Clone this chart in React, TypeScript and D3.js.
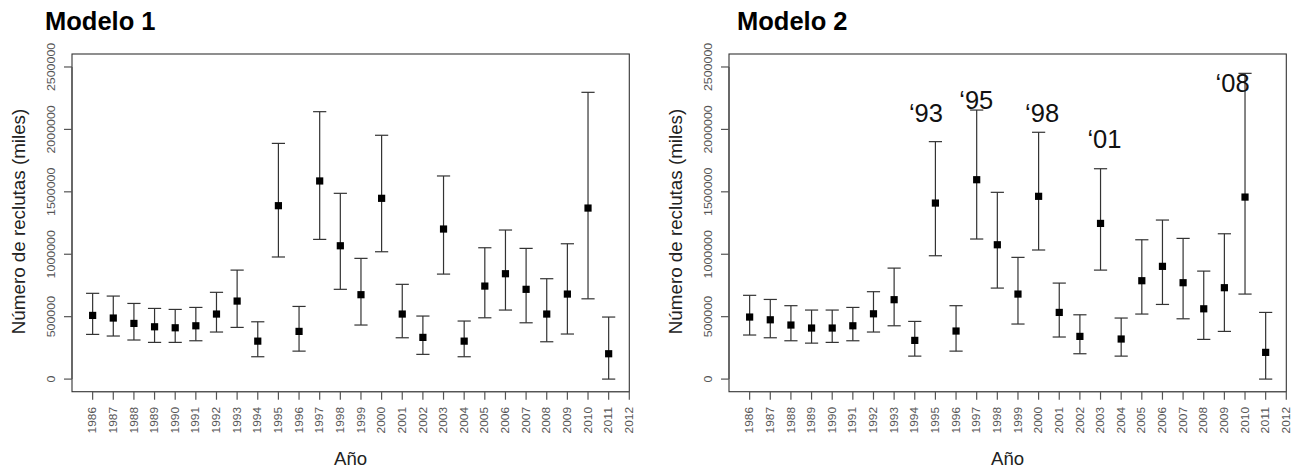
import React from "react";
import * as d3 from "d3";

const years = d3.range(1986, 2012); // 1986..2011
const tickYears = d3.range(1986, 2013); // 1986..2012
const yTicks = [0, 500000, 1000000, 1500000, 2000000, 2500000];

// Modelo 1 (in millions)
const m1Est = [0.510, 0.489, 0.446, 0.419, 0.411, 0.427, 0.521, 0.625, 0.304, 1.389, 0.382, 1.587, 1.068, 0.676, 1.448, 0.521, 0.334, 1.202, 0.304, 0.745, 0.844, 0.719, 0.521, 0.681, 1.370, 0.203];
const m1Up = [0.687, 0.665, 0.606, 0.566, 0.558, 0.574, 0.695, 0.873, 0.459, 1.888, 0.582, 2.142, 1.488, 0.967, 1.953, 0.759, 0.505, 1.627, 0.465, 1.052, 1.194, 1.047, 0.804, 1.084, 2.297, 0.497];
const m1Lo = [0.358, 0.345, 0.313, 0.294, 0.294, 0.307, 0.377, 0.414, 0.179, 0.978, 0.224, 1.119, 0.719, 0.433, 1.020, 0.331, 0.198, 0.841, 0.179, 0.491, 0.553, 0.451, 0.299, 0.361, 0.643, 0.000];

// Modelo 2 (in millions)
const m2Est = [0.497, 0.475, 0.433, 0.409, 0.409, 0.427, 0.523, 0.636, 0.310, 1.410, 0.385, 1.597, 1.076, 0.681, 1.464, 0.534, 0.342, 1.247, 0.321, 0.788, 0.903, 0.772, 0.563, 0.732, 1.458, 0.214];
const m2Up = [0.671, 0.638, 0.588, 0.553, 0.553, 0.574, 0.700, 0.889, 0.462, 1.902, 0.588, 2.155, 1.496, 0.975, 1.977, 0.769, 0.515, 1.685, 0.489, 1.116, 1.274, 1.127, 0.865, 1.164, 2.449, 0.534];
const m2Lo = [0.353, 0.331, 0.307, 0.288, 0.294, 0.307, 0.377, 0.427, 0.184, 0.988, 0.224, 1.122, 0.729, 0.441, 1.034, 0.337, 0.203, 0.873, 0.184, 0.521, 0.598, 0.483, 0.318, 0.382, 0.681, 0.000];

// annotations on Modelo 2
const annLabels = ["\u201893", "\u201895", "\u201898", "\u201801", "\u201808"];
const annX = [1994.54, 1996.98, 2000.17, 2003.19, 2009.4];
const annY = [2.062, 2.166, 2.062, 1.854, 2.303];

const FONT = "'Liberation Sans', Arial, Helvetica, sans-serif";

type PanelProps = {
  x0: number;
  title: string;
  titleX: number;
  est: number[];
  up: number[];
  lo: number[];
  ann?: boolean;
};

function Panel({ x0, title, titleX, est, up, lo, ann }: PanelProps) {
  const left = x0;
  const right = x0 + 557.3;
  const top = 54;
  const bottom = 391.7;
  const x = d3.scaleLinear().domain([1985, 2012]).range([left, right]);
  const y = d3.scaleLinear().domain([-101000, 2604000]).range([bottom, top]);
  const M = 1e6;
  const capW = 6.6;
  const sq = 7.2;
  return (
    <g>
      <text x={titleX} y={30} fontFamily={FONT} fontWeight="bold" fontSize={25.5} fill="#000">
        {title}
      </text>
      {/* box */}
      <rect x={left} y={top} width={right - left} height={bottom - top} fill="none" stroke="#333" strokeWidth={1.1} />
      {/* y axis */}
      <line x1={left} x2={left} y1={y(0)} y2={y(2500000)} stroke="#555" strokeWidth={1.3} />
      {yTicks.map((t) => (
        <g key={t}>
          <line x1={left - 8} x2={left} y1={y(t)} y2={y(t)} stroke="#555" strokeWidth={1.2} />
          <text
            transform={`translate(${left - 17.3},${y(t)}) rotate(-90)`}
            textAnchor="middle"
            fontFamily={FONT}
            fontSize={10.4}
            textLength={String(t).length * 6.9}
            lengthAdjust="spacingAndGlyphs"
            fill="#555"
          >
            {t}
          </text>
        </g>
      ))}
      {/* x axis */}
      <line x1={x(1986)} x2={x(2012)} y1={bottom} y2={bottom} stroke="#555" strokeWidth={1.3} />
      {tickYears.map((t) => (
        <g key={t}>
          <line x1={x(t)} x2={x(t)} y1={bottom} y2={bottom + 8} stroke="#555" strokeWidth={1.2} />
          <text
            transform={`translate(${x(t)},${407}) rotate(-90)`}
            textAnchor="end"
            dy="0.36em"
            fontFamily={FONT}
            fontSize={10}
            textLength={26.4}
            lengthAdjust="spacingAndGlyphs"
            fill="#555"
          >
            {t}
          </text>
        </g>
      ))}
      {/* axis titles */}
      <text
        transform={`translate(${left - 47.5},${221.5}) rotate(-90)`}
        textAnchor="middle"
        fontFamily={FONT}
        fontSize={18.8}
        fill="#222"
      >
        Número de reclutas (miles)
      </text>
      <text x={(left + right) / 2} y={465} textAnchor="middle" fontFamily={FONT} fontSize={18.6} fill="#222">
        Año
      </text>
      {/* error bars */}
      {years.map((yr, i) => {
        const cx = x(yr);
        return (
          <g key={yr}>
            <line x1={cx} x2={cx} y1={y(up[i] * M)} y2={y(lo[i] * M)} stroke="#333" strokeWidth={1.2} />
            <line x1={cx - capW} x2={cx + capW} y1={y(up[i] * M)} y2={y(up[i] * M)} stroke="#333" strokeWidth={1.2} />
            <line x1={cx - capW} x2={cx + capW} y1={y(lo[i] * M)} y2={y(lo[i] * M)} stroke="#333" strokeWidth={1.2} />
            <rect x={cx - sq / 2} y={y(est[i] * M) - sq / 2} width={sq} height={sq} fill="#000" />
          </g>
        );
      })}
      {ann &&
        annLabels.map((l, i) => (
          <text
            key={l}
            x={x(annX[i])}
            y={y(annY[i] * M)}
            textAnchor="middle"
            fontFamily={FONT}
            fontSize={25.5}
            fill="#111"
          >
            {l}
          </text>
        ))}
    </g>
  );
}

export default function App() {
  return (
    <svg
      width={1302}
      height={470}
      style={{ position: "absolute", left: 0, top: 0, background: "#fff" }}
    >
      <rect x={0} y={0} width={1302} height={470} fill="#fff" />
      <Panel x0={72} title="Modelo 1" titleX={45} est={m1Est} up={m1Up} lo={m1Lo} />
      <Panel x0={729} title="Modelo 2" titleX={737} est={m2Est} up={m2Up} lo={m2Lo} ann />
    </svg>
  );
}
